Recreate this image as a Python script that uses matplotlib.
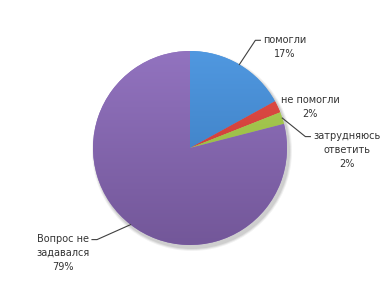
import matplotlib
matplotlib.use("Agg")
import matplotlib.pyplot as plt
import numpy as np

labels = ["помогли", "не помогли", "затрудняюсь\nответить", "Вопрос не\nзадавался"]
values = [17, 2, 2, 79]
colors_top = ["#5098e0", "#e2504a", "#b0d058", "#9273bf"]
colors_bot = ["#3674b6", "#c2322c", "#88b038", "#735799"]

# label text centres (pixels from top-left) and whether a leader line is drawn
label_pos = [(285, 47), (310, 107), (347, 150), (63, 253)]
leader = [True, False, True, True]

W, H = 387, 285
fig = plt.figure(figsize=(W / 100, H / 100), dpi=100)
ax = fig.add_axes([0, 0, 1, 1])

cx, cy, r = 190, H - 148, 97

wedges, _ = ax.pie(values, startangle=90, counterclock=False, radius=r,
                   center=(cx, cy), colors=colors_top, frame=True,
                   wedgeprops=dict(linewidth=0))
ax.set_xlim(0, W)
ax.set_ylim(0, H)
ax.set_aspect("equal")
ax.axis("off")

# soft shadow
for k, a in [(3, 0.05), (2, 0.07), (1, 0.08)]:
    ax.add_patch(plt.Circle((cx + 2, cy - 3), r + k, color="#000000", alpha=a, zorder=0, lw=0))

# vertical gradient in each wedge
grad = np.linspace(0, 1, 256).reshape(-1, 1)
for w, ct, cb in zip(wedges, colors_top, colors_bot):
    c1 = np.array(matplotlib.colors.to_rgb(ct))
    c2 = np.array(matplotlib.colors.to_rgb(cb))
    img = c1[None, None, :] * (1 - grad[..., None]) + c2[None, None, :] * grad[..., None]
    im = ax.imshow(img, extent=(cx - r, cx + r, cy - r, cy + r), origin="upper",
                   zorder=2, interpolation="bilinear")
    im.set_clip_path(w)
    w.set_zorder(1)

fig.canvas.draw()
renderer = fig.canvas.get_renderer()

for w, lab, v, (tx, ty), ld in zip(wedges, labels, values, label_pos, leader):
    ang = np.deg2rad((w.theta1 + w.theta2) / 2)
    first = lab.split("\n")[0]
    t = ax.text(tx, H - ty, f"{lab}\n{v}%", ha="center", va="center", fontsize=7,
                color="#333333", linespacing=1.45, zorder=5)
    if not ld:
        continue
    nlines = lab.count("\n") + 2
    top_y = H - ty + (nlines - 1) * 0.5 * 13.4
    ft = ax.text(0, 0, first, fontsize=7)
    fw = ft.get_window_extent(renderer).width
    ft.remove()
    px, py = cx + r * np.cos(ang), cy + r * np.sin(ang)
    if tx > cx:
        hx = tx - fw / 2 - 3
        ax.plot([px, hx - 5, hx], [py, top_y, top_y], color="#404040", lw=0.8, zorder=4)
    else:
        hx = tx + fw / 2 + 3
        ax.plot([px, hx + 5, hx], [py, top_y, top_y], color="#404040", lw=0.8, zorder=4)

fig.savefig("out.png", dpi=100)
